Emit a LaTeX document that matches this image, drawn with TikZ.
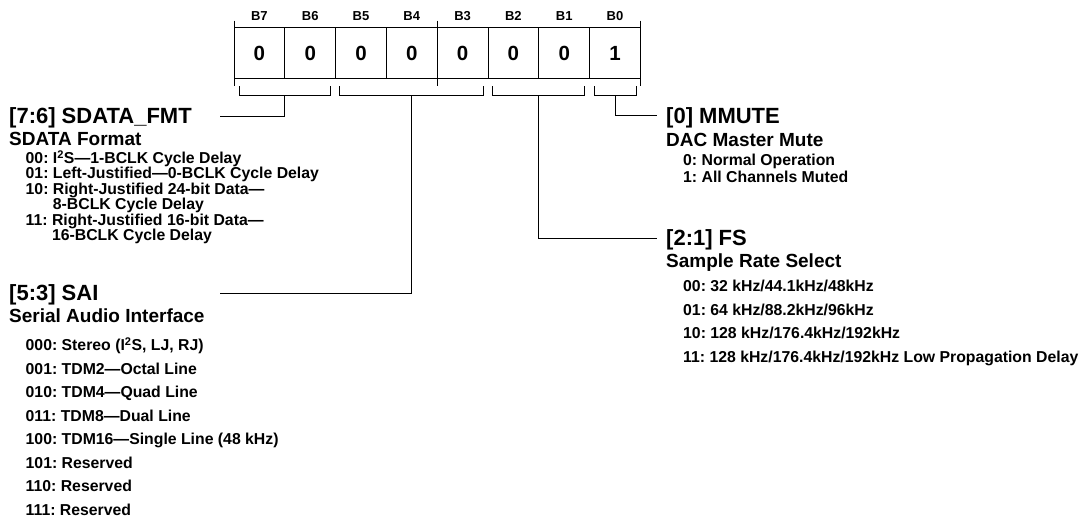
\documentclass[tikz,border=0pt]{standalone}
\usepackage{fontspec}
\setmainfont{Liberation Sans}
\frenchspacing
\begin{document}
\begin{tikzpicture}[x=1pt,y=-1pt,
  hd/.style={anchor=base west,inner sep=0pt,font=\fontsize{22}{25}\selectfont\bfseries},
  sub/.style={anchor=base west,inner sep=0pt,font=\fontsize{19}{22}\selectfont\bfseries},
  itm/.style={anchor=base west,inner sep=0pt,font=\fontsize{15.8}{18}\selectfont\bfseries},
  bitlbl/.style={anchor=base,inner sep=0pt,font=\fontsize{13}{15}\selectfont\bfseries},
  cell/.style={draw,line width=1pt,minimum width=50.8pt,minimum height=51.4pt,inner sep=0pt,font=\fontsize{20.5}{24}\selectfont\bfseries},
  ln/.style={line width=1pt}]
\useasboundingbox (0,0) rectangle (1086,523);

% register cells
\foreach \b/\v [count=\i from 0] in {7/0,6/0,5/0,4/0,3/0,2/0,1/0,0/1} {
  \node[cell] (c\b) at ({234+50.8*(\i+0.5)},53) {\v};
  \node[bitlbl] (l\b) at ({234+50.8*(\i+0.5)},20.2) {B\b};
}
% group ticks
\draw[ln] (234,20.7) -- (234,86);
\draw[ln] (437.2,20.7) -- (437.2,86);
\draw[ln] (640.4,20.7) -- (640.4,86);

% brackets
\draw[ln] (239,86) -- (239,95) -- (330,95) -- (330,86);
\draw[ln] (339.5,86) -- (339.5,95) -- (483.5,95) -- (483.5,86);
\draw[ln] (492,86) -- (492,95) -- (584,95) -- (584,86);
\draw[ln] (594.5,86) -- (594.5,95) -- (636,95) -- (636,86);
\coordinate (m76) at (284.5,95);
\coordinate (m53) at (411.5,95);
\coordinate (m21) at (538,95);
\coordinate (m0) at (615.3,95);
\coordinate (e76) at (220,116);
\coordinate (e53) at (220,293);
\coordinate (e21) at (657,238);
\coordinate (e0) at (657,115.5);
\draw[ln] (m76) |- (e76);
\draw[ln] (m53) |- (e53);
\draw[ln] (m21) |- (e21);
\draw[ln] (m0) |- (e0);

% [7:6] SDATA_FMT
\node[hd] (h76) at (9,123.8) {[7:6] SDATA\_FMT};
\node[sub] (s76) at (9,145.8) {SDATA Format};
\node[itm] (a1) at (25.5,163.4) {00: I\textsuperscript{2}S—1-BCLK Cycle Delay};
\node[itm] (a2) at (25.5,178.9) {01: Left-Justified—0-BCLK Cycle Delay};
\node[itm] (a3) at (25.5,194.4) {10: Right-Justified 24-bit Data—};
\node[itm] (a4) at (25.5,209.9) {\hphantom{10: }8-BCLK Cycle Delay};
\node[itm] (a5) at (25.5,225.4) {11: Right-Justified 16-bit Data—};
\node[itm] (a6) at (25.5,240.9) {\hphantom{11: }16-BCLK Cycle Delay};

% [5:3] SAI
\node[hd] (h53) at (9,300.8) {[5:3] SAI};
\node[sub] (s53) at (9,322.8) {Serial Audio Interface};
\node[itm] (b1) at (25.5,350.6) {000: Stereo (I\textsuperscript{2}S, LJ, RJ)};
\node[itm] (b2) at (25.5,374.1) {001: TDM2—Octal Line};
\node[itm] (b3) at (25.5,397.6) {010: TDM4—Quad Line};
\node[itm] (b4) at (25.5,421.1) {011: TDM8—Dual Line};
\node[itm] (b5) at (25.5,444.6) {100: TDM16—Single Line (48 kHz)};
\node[itm] (b6) at (25.5,468.1) {101: Reserved};
\node[itm] (b7) at (25.5,491.6) {110: Reserved};
\node[itm] (b8) at (25.5,515.1) {111: Reserved};

% [0] MMUTE
\node[hd] (h0) at (666,123.3) {[0] MMUTE};
\node[sub] (s0) at (666,146.8) {DAC Master Mute};
\node[itm] (d1) at (683,165.6) {0: Normal Operation};
\node[itm] (d2) at (683,182) {1: All Channels Muted};

% [2:1] FS
\node[hd] (h21) at (666,245.8) {[2:1] FS};
\node[sub] (s21) at (666,267.8) {Sample Rate Select};
\node[itm] (f1) at (683,291.6) {00: 32 kHz/44.1kHz/48kHz};
\node[itm] (f2) at (683,315.1) {01: 64 kHz/88.2kHz/96kHz};
\node[itm] (f3) at (683,338.6) {10: 128 kHz/176.4kHz/192kHz};
\node[itm] (f4) at (683,362.1) {11: 128 kHz/176.4kHz/192kHz Low Propagation Delay};
\end{tikzpicture}
\end{document}
